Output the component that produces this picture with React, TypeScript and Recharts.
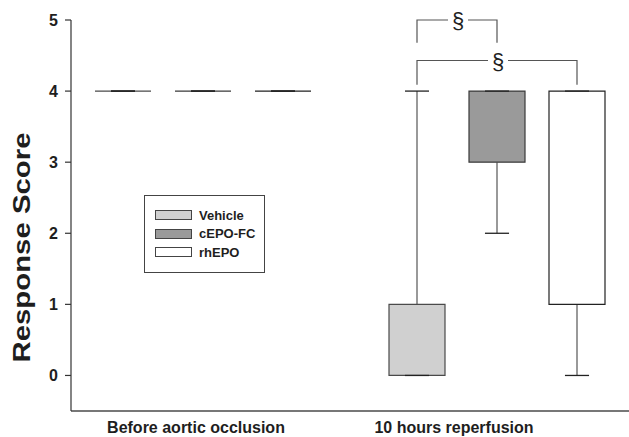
import React from 'react';
import { ComposedChart, Bar, XAxis, YAxis, Legend } from 'recharts';

// box plot values (per category: before occlusion, 10 h reperfusion)
const categories = ['Before aortic occlusion', '10 hours reperfusion'];
const seriesNames = ['Vehicle', 'cEPO-FC', 'rhEPO'];

const vehicleMin = [4, 0];
const vehicleQ1 = [4, 0];
const vehicleQ3 = [4, 1];
const vehicleMax = [4, 4];

const cepoMin = [4, 2];
const cepoQ1 = [4, 3];
const cepoQ3 = [4, 4];
const cepoMax = [4, 4];

const rhepoMin = [4, 0];
const rhepoQ1 = [4, 1];
const rhepoQ3 = [4, 4];
const rhepoMax = [4, 4];

const yTicks = [0, 1, 2, 3, 4, 5];

// significance brackets (category 1, series index from -> to)
const bracketCategory = [1, 1];
const bracketFrom = [0, 0];
const bracketTo = [1, 2];
const bracketLevel = [5.0, 4.43];
const bracketLegEnd = [4.68, 4.09];
const bracketMark = ['§', '§'];

const Y_MIN = -0.5;
const Y_MAX = 5;
const BAR_GAP = 24;
const FONT = '"Liberation Sans", Arial, Helvetica, sans-serif';
const TEXT = '#1e1e1e';

const fills = ['#d0d0d0', '#9a9a9a', '#ffffff'];
const strokes = ['#4a4a4a', '#3a3a3a', '#222222'];
const keys = ['vehicle', 'cepo', 'rhepo'];

const stats = [
  [vehicleMin, vehicleQ1, vehicleQ3, vehicleMax],
  [cepoMin, cepoQ1, cepoQ3, cepoMax],
  [rhepoMin, rhepoQ1, rhepoQ3, rhepoMax],
];

const rows = categories.map((category, i) => {
  const row: any = { category };
  keys.forEach((k, s) => {
    const [mn, q1, q3, mx] = stats[s];
    row[k] = [mn[i], mx[i]];
    row[k + 'Box'] = [q1[i], q3[i]];
  });
  return row;
});

const makeBoxShape = (s: number) => (props: any) => {
  const { x, y, width, height, payload, index, background } = props;
  const key = keys[s];
  const [lo, hi] = payload[key];
  const [q1, q3] = payload[key + 'Box'];
  const top = Math.min(y, y + height);
  const h = Math.abs(height);
  let ppu = hi > lo ? h / (hi - lo) : 0;
  if (!ppu && background) ppu = background.height / (Y_MAX - Y_MIN);
  const yOf = (v: number) => top + (hi - v) * ppu;
  const cx = x + width / 2;
  const cap = width * 0.215;

  const boxTop = yOf(q3);
  const boxBot = yOf(q1);

  const brackets: React.ReactNode[] = [];
  bracketFrom.forEach((from, b) => {
    if (from !== s || bracketCategory[b] !== index) return;
    const step = width + BAR_GAP;
    const x1 = cx;
    const x2 = cx + (bracketTo[b] - from) * step;
    const ly = yOf(bracketLevel[b]);
    const le = yOf(bracketLegEnd[b]);
    const mid = (x1 + x2) / 2 + 1;
    brackets.push(
      <g key={'br' + b} stroke="#555" strokeWidth={1.2} fill="none">
        <path d={`M${x1},${le}V${ly}H${mid - 10}M${mid + 10},${ly}H${x2}V${le}`} />
        <text
          x={mid}
          y={ly + 8}
          textAnchor="middle"
          stroke="none"
          fill={TEXT}
          fontSize={22}
          fontFamily={FONT}
        >
          {bracketMark[b]}
        </text>
      </g>
    );
  });

  return (
    <g>
      <line x1={cx} x2={cx} y1={yOf(hi)} y2={boxTop} stroke="#555" strokeWidth={1.2} />
      <line x1={cx} x2={cx} y1={boxBot} y2={yOf(lo)} stroke="#555" strokeWidth={1.2} />
      <path
        d={`M${x},${boxTop}H${x + width}V${boxBot}H${x}Z`}
        fill={fills[s]}
        stroke={strokes[s]}
        strokeWidth={1.2}
      />
      <line x1={cx - cap} x2={cx + cap} y1={yOf(hi)} y2={yOf(hi)} stroke="#222" strokeWidth={1.3} />
      <line x1={cx - cap} x2={cx + cap} y1={yOf(lo)} y2={yOf(lo)} stroke="#222" strokeWidth={1.3} />
      {brackets}
    </g>
  );
};

const labelShift = [-7, -43];

const CategoryTick = (props: any) => {
  const { x, y, payload, index } = props;
  return (
    <text
      x={x + (labelShift[index] ?? 0)}
      y={y}
      dy="0.71em"
      textAnchor="middle"
      fill={TEXT}
      fontSize={16}
      fontWeight="bold"
      fontFamily={FONT}
    >
      {payload.value}
    </text>
  );
};

const LegendBox = () => (
  <div
    style={{
      boxSizing: 'border-box',
      width: 121,
      height: 78,
      border: '1px solid #444',
      background: '#fff',
      padding: '10px 0 0 10px',
      fontFamily: FONT,
    }}
  >
    {seriesNames.map((name, s) => (
      <div key={name} style={{ display: 'flex', alignItems: 'center', height: 18.5 }}>
        <div
          style={{
            boxSizing: 'border-box',
            width: 37,
            height: 10,
            background: fills[s],
            border: '1px solid #444',
          }}
        />
        <span style={{ marginLeft: 7, fontSize: 13, fontWeight: 'bold', color: TEXT }}>{name}</span>
      </div>
    ))}
  </div>
);

const TitleLabel = (props: any) => {
  const { viewBox } = props;
  const x = viewBox.x + 22;
  const y = viewBox.y + viewBox.height / 2 + 32;
  return (
    <text
      x={x}
      y={y}
      transform={`rotate(-90, ${x}, ${y})`}
      textAnchor="middle"
      dominantBaseline="central"
      fill={TEXT}
      fontSize={23}
      fontWeight="bold"
      fontFamily={FONT}
      textLength={230}
      lengthAdjust="spacingAndGlyphs"
    >
      Response Score
    </text>
  );
};

export default function App() {
  return (
    <div
      style={{
        position: 'absolute',
        left: 0,
        top: 0,
        width: 629,
        height: 437,
        overflow: 'hidden',
        background: '#fff',
      }}
    >
      <ComposedChart
        width={644}
        height={437}
        data={rows}
        margin={{ top: 20, right: 0, bottom: 0, left: 0 }}
        barCategoryGap={39}
        barGap={BAR_GAP}
      >
        <XAxis
          dataKey="category"
          height={26}
          padding={{ left: -15, right: 0 }}
          axisLine={{ stroke: '#777', strokeWidth: 2 }}
          tickLine={false}
          tickMargin={5}
          tick={<CategoryTick />}
          interval={0}
        />
        <YAxis
          width={71}
          type="number"
          domain={[Y_MIN, Y_MAX]}
          ticks={yTicks}
          axisLine={{ stroke: '#333', strokeWidth: 1.2 }}
          tickLine={{ stroke: '#333', strokeWidth: 1.2 }}
          tickSize={6}
          tickMargin={7}
          tick={{ fill: TEXT, fontSize: 16, fontWeight: 'bold', fontFamily: FONT }}
          label={<TitleLabel />}
        />
        <Legend
          layout="vertical"
          verticalAlign="middle"
          align="center"
          wrapperStyle={{ left: 144, top: 195, width: 121, height: 78 }}
          content={<LegendBox />}
        />
        {keys.map((k, s) => (
          <Bar
            key={k}
            dataKey={k}
            name={seriesNames[s]}
            fill={fills[s]}
            shape={makeBoxShape(s)}
            isAnimationActive={false}
          />
        ))}
      </ComposedChart>
    </div>
  );
}
